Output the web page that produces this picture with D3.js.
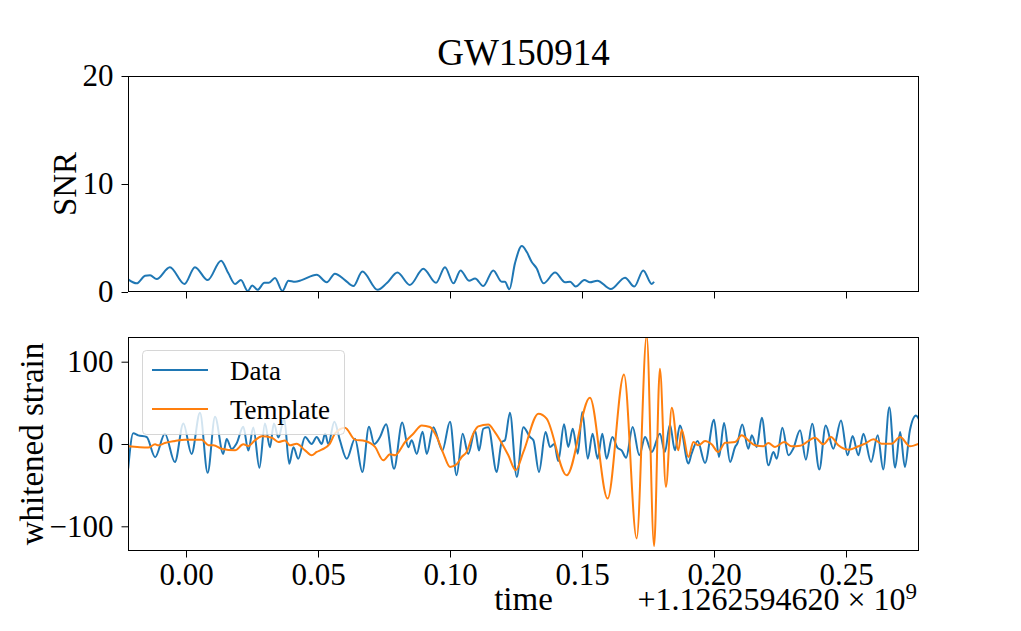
<!DOCTYPE html>
<html><head><meta charset="utf-8">
<script src="https://cdn.jsdelivr.net/npm/d3@7"></script>
<style>body{margin:0;background:#fff} svg text{font-family:"Liberation Serif","Times New Roman",serif;fill:#000}</style>
</head><body>
<svg id="c" width="1021" height="631"></svg>
<script>
// ---- data (time offset from 1.1262594620e9 s) ----
const title = "GW150914";
const xTicks = [0.00, 0.05, 0.10, 0.15, 0.20, 0.25];
const snrTicks = [0, 10, 20];
const strainTicks = [-100, 0, 100];

const snrTime = [-0.0219,-0.0187,-0.0155,-0.0136,-0.0111,-0.0061,-0.0006,0.0034,0.0082,0.0133,0.0160,0.0186,0.0208,0.0234,0.0251,0.0271,0.0297,0.0314,0.0337,0.0365,0.0388,0.0413,0.0438,0.0495,0.0533,0.0564,0.0602,0.0634,0.0668,0.0726,0.0760,0.0801,0.0848,0.0899,0.0947,0.0981,0.1013,0.1040,0.1072,0.1095,0.1126,0.1164,0.1196,0.1208,0.1225,0.1246,0.1272,0.1291,0.1309,0.1328,0.1354,0.1398,0.1436,0.1455,0.1476,0.1509,0.1530,0.1558,0.1609,0.1663,0.1698,0.1732,0.1764,0.1773];
const snrValue = [1.17,0.8,1.5,1.55,1.2,2.3,0.75,2.3,1.1,2.9,1.75,0.75,1.1,0.1,0.6,0.2,0.85,0.85,1.3,0.1,1.05,0.95,1.1,1.6,0.9,1.7,1.1,0.55,1.9,0.2,0.8,1.8,0.65,2.15,0.85,2.3,0.8,2.0,1.05,1.25,0.55,2.0,0.95,0.95,0.25,2.65,4.25,3.7,2.8,2.2,0.8,1.8,0.9,0.95,0.5,1.1,0.9,1.05,0.28,1.33,0.5,2.0,0.75,0.95];

const dataTime = [-0.0219,-0.0200,-0.0181,-0.0149,-0.0117,-0.0080,-0.0042,-0.0010,0.0021,0.0053,0.0082,0.0110,0.0141,0.0154,0.0173,0.0192,0.0217,0.0236,0.0255,0.0278,0.0299,0.0318,0.0333,0.0350,0.0372,0.0391,0.0407,0.0425,0.0451,0.0476,0.0495,0.0514,0.0527,0.0539,0.0562,0.0583,0.0609,0.0640,0.0668,0.0693,0.0713,0.0735,0.0758,0.0788,0.0819,0.0842,0.0855,0.0874,0.0896,0.0912,0.0937,0.0971,0.1000,0.1025,0.1048,0.1069,0.1095,0.1110,0.1126,0.1145,0.1177,0.1196,0.1208,0.1227,0.1253,0.1278,0.1303,0.1316,0.1337,0.1362,0.1379,0.1395,0.1410,0.1432,0.1448,0.1465,0.1484,0.1501,0.1522,0.1540,0.1559,0.1577,0.1593,0.1615,0.1634,0.1650,0.1667,0.1692,0.1717,0.1739,0.1764,0.1795,0.1814,0.1833,0.1852,0.1871,0.1903,0.1915,0.1938,0.1966,0.2000,0.2019,0.2038,0.2061,0.2080,0.2088,0.2107,0.2130,0.2143,0.2162,0.2181,0.2206,0.2225,0.2238,0.2259,0.2282,0.2300,0.2326,0.2348,0.2372,0.2399,0.2423,0.2452,0.2481,0.2506,0.2525,0.2547,0.2566,0.2595,0.2620,0.2641,0.2664,0.2686,0.2705,0.2723,0.2742,0.2765,0.2777];
const dataValue = [-30,13,10.5,8.5,-16,12.5,-22,25,-12,38,-35,33,-12,6,-6,1,21,-8,20,-29,25,-4,25,8,31,-24,-4,-18,8.5,0,8.5,0,12.5,0,27,4.5,-18,6.5,-34,21,0,8.5,24,-30,26,-4,4.5,-12,15,-12,20.5,-8,27,-38,12.5,-12,16.5,-8,18.5,20.5,-34,2.5,4.5,38,-40,20.5,8.5,4.5,-34,14.5,-3.6,0,-20.6,24,-3.6,18.6,-11.7,38.8,-17.8,12.5,-17.8,12.5,-17.8,8.5,-4.4,-7.7,-16.6,20.6,-13.7,8.5,-9.7,12.5,-9.7,23.8,-7.7,22.6,-23.8,-11.7,3.6,-23,29.5,-15.8,25.5,-21.8,-3.6,0.4,23.8,-5.7,10.5,-3.6,31.9,-25.9,-9.7,-17.8,19.8,-13.7,-5.7,16.6,-19,24.6,-31,22.6,-5.7,28.7,-13.7,9.7,-13.7,12.5,-21.8,10.5,-31,44.8,-28.7,14.5,-27.9,16.6,34.7,29.5];

const templateTime = [-0.0219,-0.0143,-0.0117,-0.0105,-0.0080,-0.0042,-0.0004,0.0059,0.0085,0.0104,0.0135,0.0186,0.0217,0.0236,0.0261,0.0287,0.0325,0.0350,0.0375,0.0394,0.0419,0.0451,0.0476,0.0495,0.0514,0.0545,0.0564,0.0602,0.0640,0.0678,0.0716,0.0747,0.0773,0.0792,0.0830,0.0861,0.0893,0.0924,0.0950,0.0975,0.1000,0.1025,0.1044,0.1063,0.1088,0.1107,0.1145,0.1170,0.1221,0.1249,0.1278,0.1335,0.1366,0.1442,0.1530,0.1597,0.1659,0.1707,0.1745,0.1773,0.1795,0.1818,0.1840,0.1865,0.1878,0.1903,0.1922,0.1941,0.1966,0.1991,0.2016,0.2042,0.2080,0.2105,0.2130,0.2155,0.2187,0.2206,0.2231,0.2266,0.2294,0.2326,0.2383,0.2414,0.2443,0.2471,0.2509,0.2547,0.2572,0.2604,0.2635,0.2673,0.2705,0.2742,0.2777];
const templateValue = [-2.8,-4.4,-0.4,-1.6,1.2,3.6,5.3,5.3,-1.6,-1.6,-5.7,-7.7,-0.4,-2.4,4.4,9.3,7.7,2.4,4.4,-1.6,0.4,-7.7,-13.7,-9.7,-6.9,0.4,12.5,19.8,5.3,3.6,-3.6,-19.8,-12.5,-13.7,2.4,12.5,22.6,20.6,8.5,-11.7,-27.9,-24.6,-15.8,-9.7,12.5,21.4,23.8,14.5,-13.7,-31.9,-9.7,36.8,30.7,-38,56.2,-66.3,84.4,-114.7,131.7,-124,91.3,-52.1,44,-7.7,17.4,-15.8,2.4,-1.6,3.6,-0.4,-9.7,1.5,2.4,10.5,4.4,-1.6,-2.8,1.2,-3.6,2.4,-2.8,-2,7.7,-0.4,8.5,-1.6,-6.9,-2.8,0.4,5.7,0.4,0.4,8.5,-2.8,0.4];

const legendLabels = ["Data", "Template"];
const colors = ["#1f77b4", "#ff7f0e"];

// ---- layout ----
const svg = d3.select("#c");
svg.append("rect").attr("width",1021).attr("height",631).attr("fill","#fff");
const L = 128, R = 919;
const P1 = {t:76, b:292}, P2 = {t:337, b:551};
const x = d3.scaleLinear().domain([-0.02197, 0.27765]).range([L, R]);
const ySnr = d3.scaleLinear().domain([0, 20]).range([P1.b, P1.t]);
const yStr = d3.scaleLinear().domain([-130, 130]).range([P2.b, P2.t]);

const defs = svg.append("defs");
[["clip1",P1],["clip2",P2]].forEach(([id,p])=>{
  defs.append("clipPath").attr("id",id).append("rect")
    .attr("x",L).attr("y",p.t).attr("width",R-L).attr("height",p.b-p.t);
});

function styleAxis(g){
  g.attr("font-family",null).attr("font-size",null);
  g.select(".domain").remove();
  g.selectAll(".tick line").attr("stroke","#000").attr("stroke-width",1);
  g.selectAll(".tick text").attr("fill","#000").style("font-size","31px");
}

function panel(p, yScale, yTicks, yFmt, showXLabels){
  const gx = svg.append("g").attr("transform",`translate(0,${p.b})`)
    .call(d3.axisBottom(x).tickValues(xTicks).tickSize(6.5).tickPadding(5)
      .tickFormat(showXLabels ? d3.format(".2f") : ""));
  styleAxis(gx);
  const gy = svg.append("g").attr("transform",`translate(${L},0)`)
    .call(d3.axisLeft(yScale).tickValues(yTicks).tickSize(6.5).tickPadding(8).tickFormat(yFmt));
  styleAxis(gy);
}

const line = (ys) => d3.line().x(d=>x(d[0])).y(d=>ys(d[1])).curve(d3.curveMonotoneX);

// top panel
panel(P1, ySnr, snrTicks, d3.format("d"), false);
svg.append("path").attr("clip-path","url(#clip1)")
  .datum(d3.zip(snrTime, snrValue))
  .attr("d", line(ySnr)).attr("fill","none").attr("stroke",colors[0]).attr("stroke-width",2);
svg.append("rect").attr("x",L+0.5).attr("y",P1.t+0.5).attr("width",R-L-1).attr("height",P1.b-P1.t-1)
  .attr("fill","none").attr("stroke","#000").attr("stroke-width",1);

// bottom panel
panel(P2, yStr, strainTicks, d3.format("d"), true);
const series = [d3.zip(dataTime, dataValue), d3.zip(templateTime, templateValue)];
series.forEach((s,i)=>{
  svg.append("path").attr("clip-path","url(#clip2)").datum(s)
    .attr("d", line(yStr)).attr("fill","none").attr("stroke",colors[i])
    .attr("stroke-width",2).attr("stroke-linejoin","round");
});
svg.append("rect").attr("x",L+0.5).attr("y",P2.t+0.5).attr("width",R-L-1).attr("height",P2.b-P2.t-1)
  .attr("fill","none").attr("stroke","#000").attr("stroke-width",1);

// legend
const lg = svg.append("g");
lg.append("rect").attr("x",142.5).attr("y",350.5).attr("width",202).attr("height",84).attr("rx",4)
  .attr("fill","#fff").attr("fill-opacity",0.8).attr("stroke","#cccccc").attr("stroke-opacity",0.8);
legendLabels.forEach((lab,i)=>{
  const yy = 370 + i*39;
  lg.append("line").attr("x1",152).attr("x2",208).attr("y1",yy).attr("y2",yy)
    .attr("stroke",colors[i]).attr("stroke-width",2);
  lg.append("text").attr("x",230).attr("y",yy+10).style("font-size","27px").text(lab);
});

// titles & labels
svg.append("text").attr("x",(L+R)/2).attr("y",65).attr("text-anchor","middle")
  .style("font-size","37px").text(title);
svg.append("text").attr("transform",`translate(76,${(P1.t+P1.b)/2}) rotate(-90)`)
  .attr("text-anchor","middle").style("font-size","33px").text("SNR");
svg.append("text").attr("transform",`translate(43,${(P2.t+P2.b)/2}) rotate(-90)`)
  .attr("text-anchor","middle").style("font-size","33px").text("whitened strain");
svg.append("text").attr("x",(L+R)/2).attr("y",610).attr("text-anchor","middle")
  .style("font-size","33px").text("time");
const off = svg.append("text").attr("x",917).attr("y",610).attr("text-anchor","end").style("font-size","32px");
off.append("tspan").text("+1.1262594620 \u00d7 10");
off.append("tspan").attr("dy",-11).style("font-size","23px").text("9");
</script>
</body></html>
